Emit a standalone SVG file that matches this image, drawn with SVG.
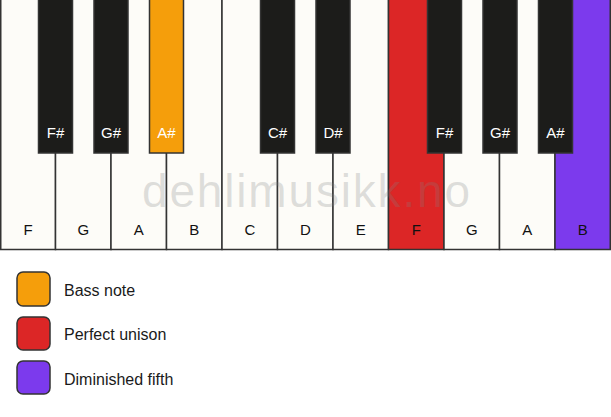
<svg xmlns="http://www.w3.org/2000/svg" width="611" height="417" viewBox="0 0 611 417">
<style>
.w{fill:#fdfcf8;stroke:#333;stroke-width:1.5}
.b{fill:#1c1c1a;stroke:#333;stroke-width:1.5}
.wl{font-family:"Liberation Sans",Arial,sans-serif;font-size:15px;fill:#111;text-anchor:middle}
.bl{font-family:"Liberation Sans",Arial,sans-serif;font-size:15px;fill:#fff;text-anchor:middle}
.lg{font-family:"Liberation Sans",Arial,sans-serif;font-size:16px;fill:#1a1a1a}
.sw{stroke:#333;stroke-width:1.5}
</style>
<rect width="611" height="417" fill="#ffffff"/>
<g id="white-keys">
<g id="wk-F1"><rect class="w" x="0.75" y="-1" width="54.75" height="250.5"/><text class="wl" x="28" y="235">F</text></g>
<g id="wk-G1"><rect class="w" x="55.5" y="-1" width="55.5" height="250.5"/><text class="wl" x="83.3" y="235">G</text></g>
<g id="wk-A1"><rect class="w" x="111" y="-1" width="55.5" height="250.5"/><text class="wl" x="138.8" y="235">A</text></g>
<g id="wk-B1"><rect class="w" x="166.5" y="-1" width="55.5" height="250.5"/><text class="wl" x="194.3" y="235">B</text></g>
<g id="wk-C"><rect class="w" x="222" y="-1" width="55.5" height="250.5"/><text class="wl" x="249.8" y="235">C</text></g>
<g id="wk-D"><rect class="w" x="277.5" y="-1" width="55.5" height="250.5"/><text class="wl" x="305.3" y="235">D</text></g>
<g id="wk-E"><rect class="w" x="333" y="-1" width="55.5" height="250.5"/><text class="wl" x="360.8" y="235">E</text></g>
<g id="wk-F2"><rect class="w" x="388.5" y="-1" width="55.5" height="250.5" style="fill:#dc2626"/><text class="wl" x="416.3" y="235">F</text></g>
<g id="wk-G2"><rect class="w" x="444" y="-1" width="55.5" height="250.5"/><text class="wl" x="471.8" y="235">G</text></g>
<g id="wk-A2"><rect class="w" x="499.5" y="-1" width="55.5" height="250.5"/><text class="wl" x="527.3" y="235">A</text></g>
<g id="wk-B2"><rect class="w" x="555" y="-1" width="55.25" height="250.5" style="fill:#7c3aed"/><text class="wl" x="582.8" y="235">B</text></g>
</g>
<text x="306" y="207" font-family="'Liberation Sans',Arial,sans-serif" font-size="46" fill="#808080" fill-opacity="0.25" text-anchor="middle" textLength="328" lengthAdjust="spacing">dehlimusikk.no</text>
<g id="black-keys">
<g id="bk-Fs1"><rect class="b" x="38.5" y="-1" width="34" height="154"/><text class="bl" x="55.5" y="138">F#</text></g>
<g id="bk-Gs1"><rect class="b" x="94" y="-1" width="34" height="154"/><text class="bl" x="111" y="138">G#</text></g>
<g id="bk-As1"><rect class="b" x="149.5" y="-1" width="34" height="154" style="fill:#f59e0b"/><text class="bl" x="166.5" y="138">A#</text></g>
<g id="bk-Cs"><rect class="b" x="260.5" y="-1" width="34" height="154"/><text class="bl" x="277.5" y="138">C#</text></g>
<g id="bk-Ds"><rect class="b" x="316" y="-1" width="34" height="154"/><text class="bl" x="333" y="138">D#</text></g>
<g id="bk-Fs2"><rect class="b" x="427.5" y="-1" width="34" height="154"/><text class="bl" x="444.5" y="138">F#</text></g>
<g id="bk-Gs2"><rect class="b" x="483" y="-1" width="34" height="154"/><text class="bl" x="500" y="138">G#</text></g>
<g id="bk-As2"><rect class="b" x="538.5" y="-1" width="34" height="154"/><text class="bl" x="555.5" y="138">A#</text></g>
</g>
<g id="legend">
<g id="lg-bass"><rect class="sw" x="17" y="272" width="33" height="34" rx="6" fill="#f59e0b"/><text class="lg" x="64" y="296">Bass note</text></g>
<g id="lg-unison"><rect class="sw" x="17" y="317" width="33" height="33" rx="6" fill="#dc2626"/><text class="lg" x="64" y="340">Perfect unison</text></g>
<g id="lg-fifth"><rect class="sw" x="17" y="361" width="33" height="33" rx="6" fill="#7c3aed"/><text class="lg" x="64" y="385">Diminished fifth</text></g>
</g>
<g id="connectors"/>
</svg>
